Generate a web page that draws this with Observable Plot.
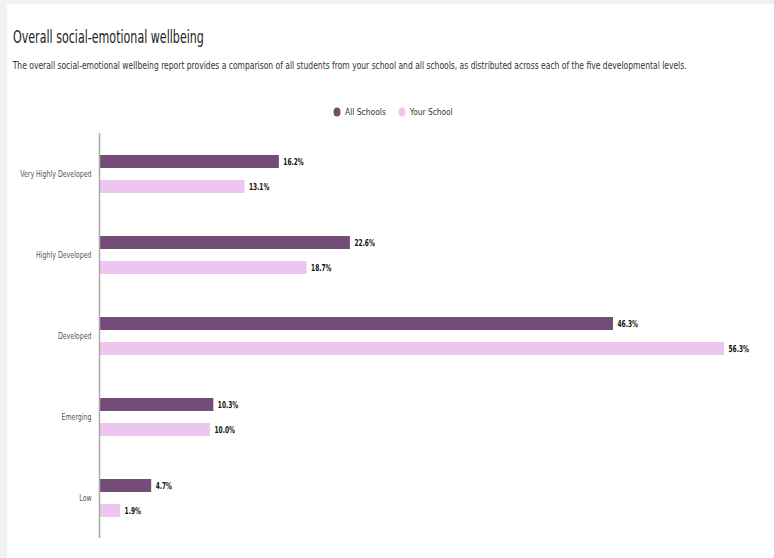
<!DOCTYPE html>
<html>
<head>
<meta charset="utf-8">
<script src="https://cdn.jsdelivr.net/npm/d3@7"></script>
<script src="https://cdn.jsdelivr.net/npm/@observablehq/plot@0.6"></script>
<style>
  html, body { margin: 0; padding: 0; width: 774px; height: 558px; overflow: hidden; background: #f1f1f1; }
  #card { position: absolute; left: 7px; top: 4px; width: 767px; height: 554px; background: #fff; }
  #head { position: absolute; left: 0; top: 0; }
  #chart { position: absolute; left: 0; top: 125px; }
</style>
</head>
<body>
<div id="card"></div>
<div id="head"></div>
<div id="chart"></div>
<script>
const categories = ["Very Highly Developed", "Highly Developed", "Developed", "Emerging", "Low"];
const series = ["All Schools", "Your School"];
const allSchools = [16.2, 22.6, 46.3, 10.3, 4.7];
const yourSchool = [13.1, 18.7, 56.3, 10.0, 1.9];
const colors = ["#744c78", "#ecc6ef"];
const titleText = "Overall social-emotional wellbeing";
const subtitleText = "The overall social-emotional wellbeing report provides a comparison of all students from your school and all schools, as distributed across each of the five developmental levels.";

const font = '"DejaVu Sans", sans-serif';

// squeeze a header SVG text (positioned by x/y attributes) horizontally about its left edge
function fitTo(node, target) {
  const w = node.getComputedTextLength();
  node.style.transformBox = "fill-box";
  node.style.transformOrigin = "left center";
  node.style.transform = `scaleX(${target / w})`;
}
// squeeze a Plot text: move its positioning transform to a wrapper group, then scale the text itself
function squeezePlotText(node, sx, origin) {
  const g = document.createElementNS("http://www.w3.org/2000/svg", "g");
  const tr = node.getAttribute("transform");
  if (tr) { g.setAttribute("transform", tr); node.removeAttribute("transform"); }
  node.parentNode.insertBefore(g, node);
  g.appendChild(node);
  node.style.transformBox = "fill-box";
  node.style.transformOrigin = origin + " center";
  node.style.transform = `scaleX(${sx})`;
}

const rowsAll = categories.map((c, i) => ({category: c, series: series[0], value: allSchools[i]}));
const rowsYour = categories.map((c, i) => ({category: c, series: series[1], value: yourSchool[i]}));
const maxV = d3.max([...allSchools, ...yourSchool]);

// header: title, subtitle, legend
const head = d3.select("#head").append("svg").attr("width", 774).attr("height", 125);
const t1 = head.append("text").attr("x", 13).attr("y", 43).attr("font-family", font).attr("font-size", 17)
  .attr("fill", "#222").text(titleText);
const t2 = head.append("text").attr("x", 13).attr("y", 69).attr("font-family", font).attr("font-size", 10.5)
  .attr("fill", "#333").text(subtitleText);
fitTo(t1.node(), 191);
fitTo(t2.node(), 675);
const items = [{label: series[0], color: colors[0], x: 337, w: 41}, {label: series[1], color: colors[1], x: 402, w: 43}];
items.forEach(it => {
  head.append("ellipse").attr("cx", it.x).attr("cy", 112).attr("rx", 3.5).attr("ry", 4.5).attr("fill", it.color);
  const t = head.append("text").attr("x", it.x + 8).attr("y", 112).attr("dy", "0.35em")
    .attr("font-family", font).attr("font-size", 9.5).attr("fill", "#333").text(it.label);
  fitTo(t.node(), it.w);
});

const plot = Plot.plot({
  width: 774,
  height: 420,
  marginTop: 8,
  marginBottom: 7,
  marginLeft: 99,
  marginRight: 50,
  style: {fontFamily: font, background: "transparent", overflow: "visible"},
  x: {domain: [0, maxV], axis: null},
  y: {domain: categories, padding: 0, label: null},
  color: {domain: series, range: colors},
  marks: [
    Plot.barX(rowsAll, {x: "value", y: "category", fill: colors[0], insetTop: 22, insetBottom: 46}),
    Plot.barX(rowsYour, {x: "value", y: "category", fill: colors[1], insetTop: 47, insetBottom: 21}),
    Plot.text(rowsAll, {x: "value", y: "category", text: d => d.value.toFixed(1) + "%", dx: 4, dy: -12.5, textAnchor: "start", fontWeight: "bold", fontSize: 9.5, fill: "#111", className: "vlab"}),
    Plot.text(rowsYour, {x: "value", y: "category", text: d => d.value.toFixed(1) + "%", dx: 4, dy: 12.5, textAnchor: "start", fontWeight: "bold", fontSize: 9.5, fill: "#111", className: "vlab"}),
    Plot.ruleX([0], {stroke: "#aaa", strokeWidth: 1.5}),
    Plot.axisY({tickSize: 0, tickPadding: 8, fontSize: 9.5, color: "#555", label: null, className: "ylab"})
  ]
});
document.getElementById("chart").appendChild(plot);
plot.querySelectorAll(".vlab text").forEach(n => squeezePlotText(n, 0.62, "left"));
plot.querySelectorAll(".ylab text").forEach(n => squeezePlotText(n, 0.66, "right"));
</script>
</body>
</html>
